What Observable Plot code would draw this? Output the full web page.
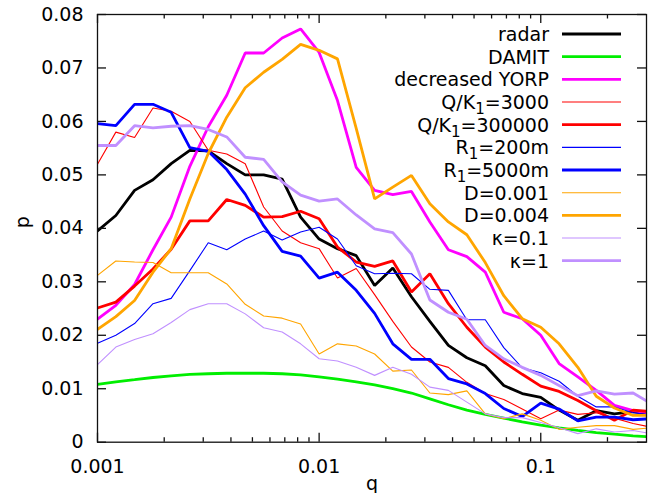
<!DOCTYPE html>
<html>
<head>
<meta charset="utf-8">
<script src="https://cdn.jsdelivr.net/npm/d3@7"></script>
<script src="https://cdn.jsdelivr.net/npm/@observablehq/plot@0.6"></script>
<style>
  html, body { margin: 0; padding: 0; background: white; }
</style>
</head>
<body>
<div id="chart"></div>
<script>
// q bin positions (12 per decade)
const q = [0.001, 0.00121, 0.00147, 0.00178, 0.00215, 0.00261, 0.00316, 0.00383, 0.00464, 0.00562, 0.00681, 0.00825,
           0.01, 0.0121, 0.0147, 0.0178, 0.0215, 0.0261, 0.0316, 0.0383, 0.0464, 0.0562, 0.0681, 0.0825,
           0.1, 0.121, 0.147, 0.178, 0.215, 0.261, 0.316];

const radar = [0.0395, 0.0424, 0.0471, 0.0491, 0.0521, 0.0546, 0.0545, 0.0521, 0.0500, 0.0500, 0.0492, 0.0421, 0.0380, 0.0362, 0.0349, 0.0293, 0.0326, 0.0272, 0.0226, 0.0181, 0.0158, 0.0143, 0.0106, 0.0091, 0.0084, 0.0060, 0.0041, 0.0059, 0.0053, 0.0057, 0.0052];
const damit = [0.0108, 0.0113, 0.0117, 0.0121, 0.0124, 0.0127, 0.0128, 0.0129, 0.0129, 0.0129, 0.0128, 0.0126, 0.0122, 0.0118, 0.0113, 0.0107, 0.0100, 0.0092, 0.0081, 0.0070, 0.0060, 0.0052, 0.0045, 0.0038, 0.0032, 0.0027, 0.0022, 0.0018, 0.0015, 0.0012, 0.0010];
const decreasedYorp = [0.0230, 0.0256, 0.0295, 0.0360, 0.0421, 0.0516, 0.0590, 0.0649, 0.0728, 0.0728, 0.0756, 0.0773, 0.0729, 0.0639, 0.0514, 0.0471, 0.0463, 0.0469, 0.0412, 0.0360, 0.0347, 0.0318, 0.0243, 0.0231, 0.0200, 0.0147, 0.0122, 0.0097, 0.0069, 0.0059, 0.0054];
const qk3000 = [0.0520, 0.0580, 0.0570, 0.0625, 0.0619, 0.0600, 0.0546, 0.0539, 0.0521, 0.0440, 0.0395, 0.0373, 0.0362, 0.0307, 0.0325, 0.0276, 0.0226, 0.0178, 0.0150, 0.0140, 0.0112, 0.0091, 0.0080, 0.0062, 0.0044, 0.0060, 0.0052, 0.0055, 0.0045, 0.0035, 0.0028];
const qk300000 = [0.0251, 0.0262, 0.0292, 0.0324, 0.0361, 0.0414, 0.0414, 0.0454, 0.0443, 0.0421, 0.0422, 0.0432, 0.0418, 0.0365, 0.0337, 0.0329, 0.0339, 0.0281, 0.0315, 0.0259, 0.0215, 0.0178, 0.0150, 0.0127, 0.0105, 0.0095, 0.0078, 0.0059, 0.0041, 0.0060, 0.0057];
const r200 = [0.0185, 0.0200, 0.0222, 0.0259, 0.0269, 0.0321, 0.0373, 0.0360, 0.0380, 0.0395, 0.0378, 0.0393, 0.0402, 0.0380, 0.0330, 0.0315, 0.0316, 0.0315, 0.0286, 0.0284, 0.0229, 0.0229, 0.0177, 0.0139, 0.0130, 0.0114, 0.0086, 0.0066, 0.0066, 0.0055, 0.0051];
const r5000 = [0.0596, 0.0592, 0.0632, 0.0632, 0.0617, 0.0551, 0.0544, 0.0510, 0.0464, 0.0405, 0.0357, 0.0348, 0.0307, 0.0318, 0.0284, 0.0241, 0.0184, 0.0155, 0.0155, 0.0119, 0.0109, 0.0091, 0.0063, 0.0048, 0.0073, 0.0062, 0.0040, 0.0047, 0.0047, 0.0042, 0.0044];
const d001 = [0.0312, 0.0339, 0.0337, 0.0336, 0.0317, 0.0317, 0.0317, 0.0296, 0.0258, 0.0236, 0.0232, 0.0221, 0.0165, 0.0184, 0.0180, 0.0165, 0.0133, 0.0135, 0.0092, 0.0089, 0.0096, 0.0053, 0.0044, 0.0053, 0.0041, 0.0024, 0.0028, 0.0031, 0.0031, 0.0024, 0.0027];
const d004 = [0.0211, 0.0235, 0.0265, 0.0318, 0.0362, 0.0455, 0.0540, 0.0608, 0.0663, 0.0692, 0.0716, 0.0744, 0.0733, 0.0717, 0.0587, 0.0455, 0.0477, 0.0499, 0.0446, 0.0412, 0.0388, 0.0336, 0.0274, 0.0231, 0.0215, 0.0184, 0.0140, 0.0086, 0.0064, 0.0050, 0.0050];
const kappa01 = [0.0145, 0.0178, 0.0192, 0.0203, 0.0224, 0.0248, 0.0259, 0.0259, 0.0240, 0.0214, 0.0206, 0.0184, 0.0156, 0.0152, 0.0140, 0.0125, 0.0140, 0.0127, 0.0103, 0.0097, 0.0075, 0.0053, 0.0046, 0.0046, 0.0037, 0.0027, 0.0016, 0.0025, 0.0019, 0.0022, 0.0016];
const kappa1 = [0.0555, 0.0555, 0.0592, 0.0588, 0.0591, 0.0592, 0.0585, 0.0571, 0.0533, 0.0529, 0.0487, 0.0462, 0.0451, 0.0455, 0.0425, 0.0399, 0.0392, 0.0352, 0.0266, 0.0243, 0.0230, 0.0181, 0.0156, 0.0140, 0.0125, 0.0106, 0.0087, 0.0096, 0.0090, 0.0092, 0.0072];

const seriesNames = ["radar", "DAMIT", "decreased YORP", "Q/K_1=3000", "Q/K_1=300000", "R_1=200m", "R_1=5000m", "D=0.001", "D=0.004", "κ=0.1", "κ=1"];
const seriesValues = [radar, damit, decreasedYorp, qk3000, qk300000, r200, r5000, d001, d004, kappa01, kappa1];
const seriesColors = ["#000000", "#00ee00", "#ff00ff", "#ff0000", "#ff0000", "#0000ff", "#0000ff", "#ffa500", "#ffa500", "#c090ff", "#c090ff"];
const seriesWidths = [2.8, 2.8, 2.8, 1.1, 2.8, 1.1, 2.8, 1.1, 2.8, 1.1, 2.8];

const xMajor = [0.001, 0.01, 0.1];
const xMinor = [0.002, 0.003, 0.004, 0.005, 0.006, 0.007, 0.008, 0.009,
                0.02, 0.03, 0.04, 0.05, 0.06, 0.07, 0.08, 0.09, 0.2];
const yTicks = [0, 0.01, 0.02, 0.03, 0.04, 0.05, 0.06, 0.07, 0.08];

const W = 655, H = 493;
const mL = 97, mR = 9, mT = 14, mB = 51.3;
const frameH = H - mT - mB, frameW = W - mL - mR;

const rows = seriesNames.flatMap((name, si) =>
  q.map((x, i) => ({q: x, p: seriesValues[si][i], s: name})));

const lineMarks = seriesNames.map((name, si) =>
  Plot.line(rows.filter(r => r.s === name), {
    x: "q", y: "p", stroke: seriesColors[si], strokeWidth: seriesWidths[si],
    strokeLinejoin: "miter", clip: true
  }));

const chart = Plot.plot({
  width: W, height: H,
  marginLeft: mL, marginRight: mR, marginTop: mT, marginBottom: mB,
  style: {fontFamily: "DejaVu Sans", fontSize: "19px", background: "white", color: "black"},
  x: {type: "log", domain: [0.001, 0.3]},
  y: {domain: [0, 0.08]},
  marks: [
    ...lineMarks,
    Plot.frame({stroke: "#111", strokeWidth: 1.3}),
    Plot.tickX(xMajor, {x: d => d, insetTop: frameH - 9, stroke: "#111", strokeWidth: 1.3}),
    Plot.tickX(xMajor, {x: d => d, insetBottom: frameH - 9, stroke: "#111", strokeWidth: 1.3}),
    Plot.tickX(xMinor, {x: d => d, insetTop: frameH - 4.5, stroke: "#111", strokeWidth: 1.3}),
    Plot.tickX(xMinor, {x: d => d, insetBottom: frameH - 4.5, stroke: "#111", strokeWidth: 1.3}),
    Plot.tickY(yTicks, {y: d => d, insetRight: frameW - 9, stroke: "#111", strokeWidth: 1.3}),
    Plot.tickY(yTicks, {y: d => d, insetLeft: frameW - 9, stroke: "#111", strokeWidth: 1.3}),
    Plot.axisX({ticks: xMajor, tickSize: 0, tickPadding: 17, tickFormat: d => String(d), label: null}),
    Plot.axisY({ticks: yTicks, tickSize: 0, tickPadding: 14, tickFormat: d => d === 0 ? "0" : d.toFixed(2), label: null}),
    Plot.text(["p"], {frameAnchor: "left", dx: -69, rotate: -90, lineAnchor: "bottom", fontSize: 19}),
    Plot.text(["q"], {frameAnchor: "bottom", dy: 48, lineAnchor: "bottom", fontSize: 19})
  ]
});

document.getElementById("chart").appendChild(chart);

// Legend (inside plot, top right)
const svg = d3.select(chart);
const lg = svg.append("g").attr("font-family", "DejaVu Sans").attr("font-size", 19).attr("fill", "black");
seriesNames.forEach((name, i) => {
  const y = 34 + i * 22.67;
  lg.append("line").attr("x1", 562).attr("x2", 621).attr("y1", y).attr("y2", y)
    .attr("stroke", seriesColors[i]).attr("stroke-width", seriesWidths[i]);
  const t = lg.append("text").attr("x", 549).attr("y", y + 7).attr("text-anchor", "end");
  const parts = name.split(/_(\w)/);
  let pendingDy = 0;
  parts.forEach((part, j) => {
    if (!part) return;
    if (j % 2 === 1) {
      t.append("tspan").attr("font-size", 15).attr("dy", 5).text(part);
      pendingDy = -5;
    } else {
      const sp = t.append("tspan").text(part);
      if (pendingDy) { sp.attr("dy", pendingDy); pendingDy = 0; }
    }
  });
});
</script>
</body>
</html>
